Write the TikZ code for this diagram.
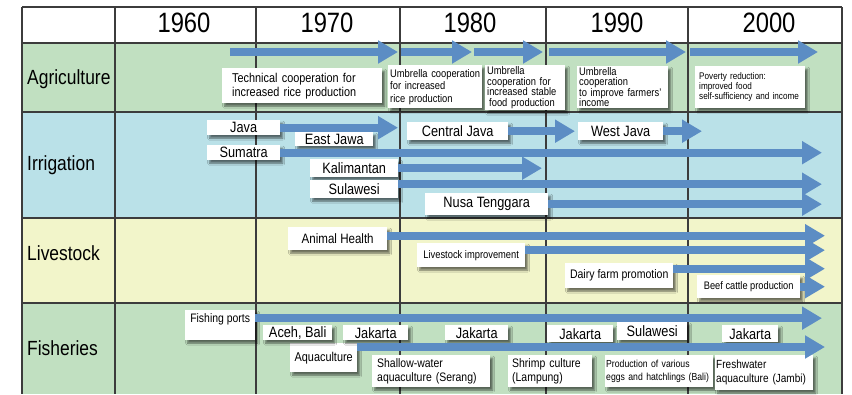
\documentclass[tikz,border=0pt]{standalone}
\usepackage{fontspec}
\setmainfont{Liberation Sans}[FakeStretch=0.85]
\usepackage{tikz}
\usetikzlibrary{arrows.meta, shadows.blur}

\definecolor{agrigreen}{RGB}{193,224,193}
\definecolor{irriblue}{RGB}{186,225,232}
\definecolor{livecream}{RGB}{242,245,202}
\definecolor{barblue}{RGB}{92,141,196}
\definecolor{gridgray}{RGB}{60,60,60}

\tikzset{
  fs/.style 2 args={font=\fontsize{#1}{#2}\selectfont},
  grid/.style={draw=gridgray, line width=1.1pt},
  year/.style={fs={28}{30}, inner sep=0pt},
  sector/.style={fs={20.5}{22}, inner sep=0pt, anchor=base west},
  box/.style={fill=white, inner sep=0pt, anchor=north west,
    blur shadow={shadow xshift=2.5pt, shadow yshift=-3pt,
      shadow blur radius=2pt, shadow opacity=55}},
  place/.style={box, fs={15}{16}, align=center},
  note/.style={box, align=left},
  bar/.style={draw=barblue, line width=8pt,
    -{Triangle[length=20pt, width=22pt]}}
}

\begin{document}
\begin{tikzpicture}[x=1pt, y=-1pt]
  \useasboundingbox (0,0) rectangle (852,394);

  % row colours
  \fill[agrigreen] (22,43) rectangle (842,112);
  \fill[irriblue] (22,112) rectangle (842,218);
  \fill[livecream] (22,218) rectangle (842,303);
  \fill[agrigreen] (22,303) rectangle (842,394);

  % table grid
  \foreach \x in {22,115,256,400,546,688,842}
    \draw[grid] (\x,7) -- (\x,394);
  \foreach \y in {7,43,112,218,303}
    \draw[grid] (22,\y) -- (842,\y);

  % decades
  \foreach \yr/\x in {1960/184,1970/327,1980/470,1990/617,2000/769}
    \node[year] (y\yr) at (\x,23) {\yr};

  % sectors
  \node[sector] (agri) at (27,84) {Agriculture};
  \node[sector] (irri) at (27,170) {Irrigation};
  \node[sector] (live) at (27,260) {Livestock};
  \node[sector] (fish) at (27,355) {Fisheries};

  % bar ends
  \coordinate (end70) at (398,0);
  \coordinate (end80) at (542,0);
  \coordinate (endcj) at (575,0);
  \coordinate (end90) at (702,0);
  \coordinate (endR) at (822,0);
  \coordinate (endL) at (825,0);

  % Agriculture
  \foreach \s/\e [count=\i] in {230/398,401/472,474/543,549/686,690/818} {
    \coordinate (ag\i s) at (\s,52);
    \coordinate (ag\i e) at (\e,52);
    \draw[bar] (ag\i s) -- (ag\i e);
  }
  \node[note, fs={12.8}{14}, text width=140pt, inner xsep=10pt, minimum height=35pt]
    (rice) at (222,68) {Technical cooperation for\\increased rice production};
  \node[note, fs={11}{12.5}, text width=90pt, inner xsep=2pt, minimum height=43pt]
    (umbrice) at (388,65) {Umbrella cooperation\\for increased\\rice production};
  \node[note, fs={11}{10.5}, text width=76pt, inner xsep=2pt, minimum height=45pt]
    (umbfood) at (485,65) {Umbrella\\cooperation for\\increased stable\\\hspace{2pt}food production};
  \node[note, fs={11}{10.5}, text width=87pt, inner xsep=2pt, minimum height=42pt]
    (umbfarm) at (577,66) {Umbrella\\cooperation\\to improve farmers'\\income};
  \node[note, fs={9.6}{10}, text width=102pt, inner xsep=4pt, minimum height=42pt]
    (poverty) at (695,66) {Poverty reduction:\\improved food\\self-sufficiency and income};

  % Irrigation
  \node[place, minimum width=73pt, minimum height=15pt] (java) at (207,120) {Java};
  \node[place, minimum width=78pt, minimum height=14pt] (eastjawa) at (295,132) {East Jawa};
  \node[place, minimum width=73pt, minimum height=15pt] (sumatra) at (207,145) {Sumatra};
  \node[place, minimum width=101pt, minimum height=18pt] (centjava) at (407,122) {Central Java};
  \node[place, minimum width=85pt, minimum height=18pt] (westjava) at (578,122) {West Java};
  \node[place, minimum width=88pt, minimum height=18pt] (kalim) at (310,159) {Kalimantan};
  \node[place, minimum width=88pt, minimum height=18pt] (sulirri) at (310,180) {Sulawesi};
  \node[place, minimum width=123pt, minimum height=22pt] (nusa) at (425,193) {Nusa Tenggara};

  \draw[bar] (java.east) -- (java.east -| end70);
  \draw[bar] (sumatra.east) -- (sumatra.east -| endR);
  \draw[bar] (centjava.east) -- (centjava.east -| endcj);
  \draw[bar] (westjava.east) -- (westjava.east -| end90);
  \draw[bar] (kalim.east) -- (kalim.east -| end80);
  \draw[bar] ([yshift=5pt]sulirri.east) -- ([yshift=5pt]sulirri.east -| endR);
  \draw[bar] (nusa.east) -- (nusa.east -| endR);

  % Livestock
  \node[box, fs={13.6}{15}, minimum width=99pt, minimum height=23pt] (health) at (288,227) {Animal Health};
  \node[box, fs={11}{12}, minimum width=108pt, minimum height=24pt] (improve) at (417,243) {Livestock improvement};
  \node[box, fs={12.4}{14}, minimum width=108pt, minimum height=25pt] (dairy) at (565,263) {Dairy farm promotion};
  \node[box, fs={10.9}{12}, minimum width=103pt, minimum height=23pt] (beef) at (697,275) {Beef cattle production};

  \draw[bar] ([yshift=3pt]health.east) -- ([yshift=3pt]health.east -| endL);
  \draw[bar] ([yshift=5pt]improve.east) -- ([yshift=5pt]improve.east -| endL);
  \draw[bar] ([yshift=7pt]dairy.east) -- ([yshift=7pt]dairy.east -| endL);
  \draw[bar] (beef.east) -- (beef.east -| endL);

  % Fisheries
  \node[box, fs={12.3}{14}, minimum width=70pt, inner ysep=3pt, text depth=15pt] (ports) at (185,310) {Fishing ports};
  \node[box, fs={12.8}{14}, minimum width=67pt, minimum height=29pt] (aqua) at (290,343) {Aquaculture};
  \node[place, minimum width=69pt, minimum height=15pt] (aceh) at (263,325) {Aceh, Bali};
  \node[place, minimum width=65pt, minimum height=15pt] (jakA) at (343,325) {Jakarta};
  \node[place, minimum width=63pt, minimum height=15pt] (jakB) at (445,325) {Jakarta};
  \node[place, minimum width=66pt, minimum height=17pt] (jakC) at (547,325) {Jakarta};
  \node[place, minimum width=70pt, minimum height=18pt] (sulfish) at (617,322) {Sulawesi};
  \node[place, minimum width=56pt, minimum height=17pt] (jakD) at (722,325) {Jakarta};
  \node[note, fs={12.3}{14.5}, text width=108pt, inner xsep=5pt, minimum height=32pt]
    (shallow) at (372,355) {Shallow-water\\aquaculture (Serang)};
  \node[note, fs={12.3}{14.5}, text width=76pt, inner xsep=4pt, minimum height=32pt]
    (shrimp) at (508,355) {Shrimp culture\\(Lampung)};
  \node[note, fs={10.2}{13}, text width=106pt, inner xsep=1pt, minimum height=32pt]
    (eggs) at (605,355) {Production of various\\eggs and hatchlings (Bali)};
  \node[note, fs={11.8}{14}, text width=96pt, inner xsep=1pt, minimum height=35pt]
    (fresh) at (715,355) {Freshwater\\aquaculture (Jambi)};

  \draw[bar] ([yshift=7pt]ports.east) -- ([yshift=7pt]ports.east -| endR);
  \draw[bar] ([yshift=-4pt]aqua.north east) -- ([yshift=-4pt]aqua.north east -| endL);
\end{tikzpicture}
\end{document}
